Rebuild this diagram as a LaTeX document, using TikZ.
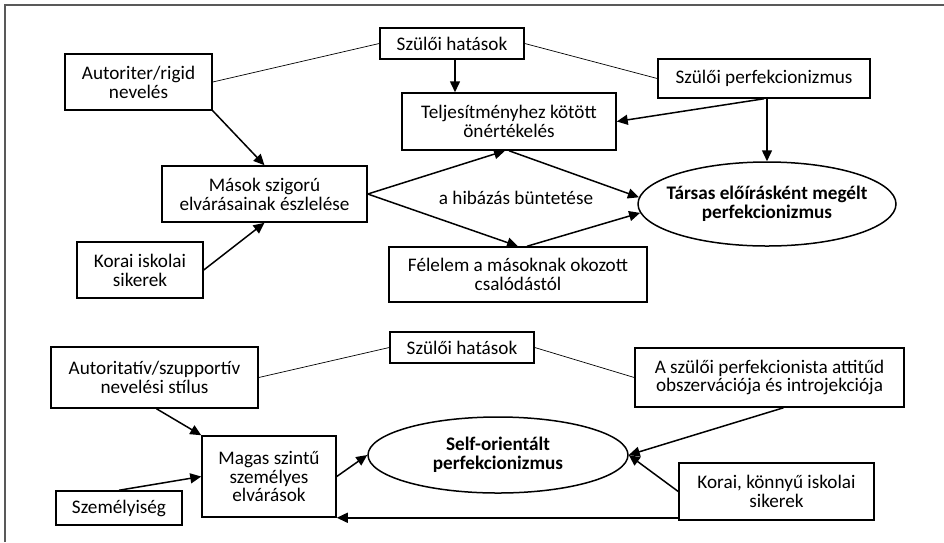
\documentclass[tikz,border=0pt]{standalone}
\usepackage{fontspec}
\setmainfont{Carlito}
\usetikzlibrary{arrows.meta,shapes.geometric}

\begin{document}
\begin{tikzpicture}[x=1pt,y=-1pt,
  txt/.style={font=\fontsize{19.2}{18.8}\selectfont, align=center},
  box/.style={txt, draw, line width=1.5pt, inner sep=0pt},
  oval/.style={draw, ellipse, line width=1.5pt, inner sep=0pt},
  ovaltext/.style={txt, font=\fontsize{19.2}{18.8}\selectfont\bfseries},
  arr/.style={line width=1.5pt, -{Triangle[length=11pt,width=10pt]}},
  thinline/.style={line width=0.7pt}]

\useasboundingbox (0,0) rectangle (944,542);

% frame (left and top edges)
\draw[line width=1.6pt, black!65] (5,542) -- (5,5) -- (944,5);

% ---------- upper model ----------
\node[box, minimum width=144, minimum height=31] (sz1) at (452,43.5) {Szülői hatások};
\node[box, minimum width=147, minimum height=56] (aut) at (138.5,82) {Autoriter/rigid\\nevelés};
\node[box, minimum width=214, minimum height=57] (telj) at (509,121.5) {Teljesítményhez kötött\\önértékelés};
\node[box, minimum width=205, minimum height=56] (masok) at (264.5,194) {Mások szigorú\\elvárásainak észlelése};
\node[box, minimum width=126, minimum height=56] (korai) at (140,270) {Korai iskolai\\sikerek};
\node[box, minimum width=258, minimum height=55] (fel) at (518,274.5) {Félelem a másoknak okozott\\csalódástól};
\node[box, minimum width=212, minimum height=39] (szp) at (764,78.5) {Szülői perfekcionizmus};
\node[oval, minimum width=258, minimum height=84,
      label={[ovaltext]center:{Társas előírásként megélt\\perfekcionizmus}}] (tars) at (767,204) {};
\node[txt] (hib) at (516,198) {a hibázás büntetése};

\draw[thinline] (sz1.west) -- (aut.east);
\draw[thinline] (sz1.east) -- (szp.west);
\draw[arr] ([xshift=3pt]sz1.south) -- ([xshift=3pt]sz1.south |- telj.north);
\draw[arr] (aut.south east) -- (masok.north);
\draw[arr] (korai.east) -- (masok.south);
\draw[arr] (masok.east) -- ([xshift=-4pt]telj.south);
\draw[arr] (masok.east) -- (fel.north);
\draw[arr] (telj.south) -- (tars.177);
\draw[arr] ([xshift=9pt]fel.north) -- (tars.184);
\draw[arr] (szp.south) -- (telj.east);
\draw[arr] (tars.north |- szp.south) -- (tars.north);

% ---------- lower model ----------
\node[box, minimum width=144, minimum height=31] (sz2) at (462,347.5) {Szülői hatások};
\node[box, minimum width=207, minimum height=61] (autor) at (154.5,377.5) {Autoritatív/szupportív\\nevelési stílus};
\node[box, minimum width=134, minimum height=81] (magas) at (269,476.5) {Magas szintű\\személyes\\elvárások};
\node[box, minimum width=126, minimum height=34] (szem) at (119,508) {Személyiség};
\node[oval, minimum width=260, minimum height=76,
      label={[ovaltext]center:{Self-orientált\\perfekcionizmus}}] (self) at (498,455) {};
\node[box, minimum width=269, minimum height=59] (aszp) at (769.5,377.5) {A szülői perfekcionista attitűd\\obszervációja és introjekciója};
\node[box, minimum width=195, minimum height=57] (kk) at (776.5,491.5) {Korai, könnyű iskolai\\sikerek};

\draw[thinline] (sz2.west) -- (autor.east);
\draw[thinline] (sz2.east) -- (aszp.west);
\draw[arr] ([xshift=2pt]autor.south) -- (magas.north west);
\draw[arr] (szem.north) -- (magas.west);
\draw[arr] (magas.east) -- (self.west);
\draw[arr] ([xshift=14pt]aszp.south) -- (self.east);
\draw[arr] (kk.west) -- (self.east);
\draw[arr] ([yshift=3pt]kk.south west) -- ([yshift=3pt]kk.south west -| magas.east);

\end{tikzpicture}
\end{document}
